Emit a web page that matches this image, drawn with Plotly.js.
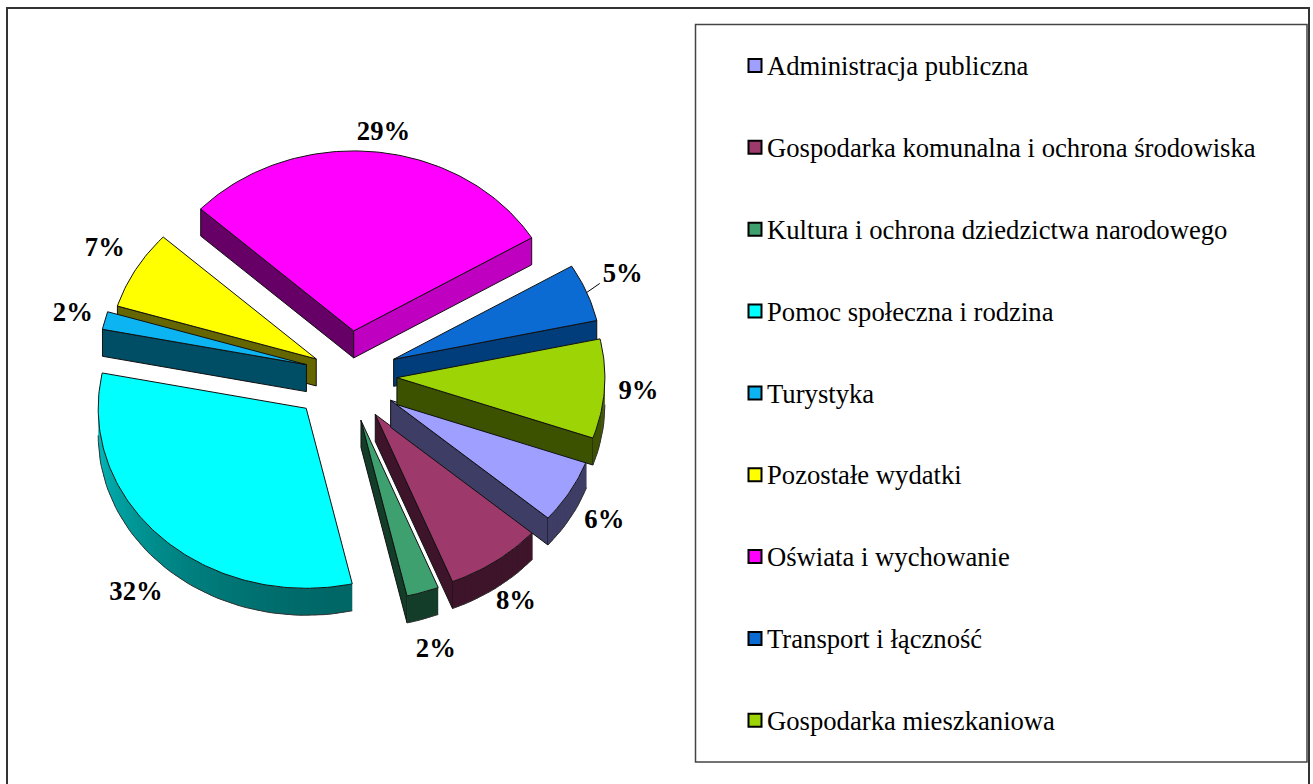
<!DOCTYPE html>
<html><head><meta charset="utf-8">
<script src="https://cdn.plot.ly/plotly-3.0.1.min.js"></script>
<style>html,body{margin:0;padding:0;background:#fff}#c{width:1313px;height:784px}</style>
</head><body><div id="c"></div>
<script>
// ---- data ----
const categories = ["Administracja publiczna","Gospodarka komunalna i ochrona środowiska","Kultura i ochrona dziedzictwa narodowego","Pomoc społeczna i rodzina","Turystyka","Pozostałe wydatki","Oświata i wychowanie","Transport i łączność","Gospodarka mieszkaniowa"];
const shares = [5.9,7.6,2.5,31.7,1.6,7.1,29.5,5.2,8.9];
const percentLabels = ["6%","8%","2%","32%","2%","7%","29%","5%","9%"];

// ---- style ----
const topColors = ["#9F9FFF","#9E3A6B","#3DA06E","#00FFFF","#0DB4F2","#FFFF00","#FF00FF","#0B6BD3","#9DD406"];
const startWallColors = ["#3D3D66","#3D1429","#143D29","#006666","#004D66","#666600","#660066","#003D7A","#3D5200"];
const endWallColors = ["#3D3D66","#3D1429","#143D29","#006666","#004D66","#666600","#C000C0","#003D7A","#3D5200"];
// draw order, back to front
const drawOrder = [6,5,4,7,3,2,1,0,8];
const labelNudgeX = [34,20,13,-25,-32,-31,9,36,34];
const labelNudgeY = [30,41,58,56,-6,-20,-18,-17,3];
// small per-slice corrections of the exploded position
const explodeNudgeX = [0,-2,-3,-11,2,7,-1,0,0];
const explodeNudgeY = [4,5,5,3,0,5,-2,0,0];

// ---- geometry parameters (chart frame in pixels) ----
const cx=350, cy=375, rx=208, ry=180, depth=27, pull=47, startDeg=19.6;
const rad=d=>d*Math.PI/180;
const total=shares.reduce((a,b)=>a+b,0);
function mix(a,b,t){const p=s=>[1,3,5].map(i=>parseInt(s.substr(i,2),16));const A=p(a),B=p(b);
  return 'rgb('+A.map((v,i)=>Math.round(v+(B[i]-v)*t)).join(',')+')';}
const traces=[];
const base={mode:'lines',fill:'toself',hoverinfo:'skip',showlegend:false,type:'scatter',line:{width:1,color:'#111'}};

let acc=startDeg; const slices=shares.map((v,i)=>{let s=acc;let e=acc+v/total*360;acc=e;
  if(s>270){s-=360;e-=360;}
  const m=(s+e)/2;
  const ax=cx+pull*Math.cos(rad(m))+explodeNudgeX[i];
  const ay=cy+pull*0.9*Math.sin(rad(m))+explodeNudgeY[i];
  return {s,e,m,ax,ay,i};});

drawOrder.forEach(k=>{const S=slices[k];
  const pt=d=>[S.ax+rx*Math.cos(rad(d)),S.ay+ry*Math.sin(rad(d))];
  const [sx,sy]=pt(S.s),[ex,ey]=pt(S.e);
  // radial side walls, only the ones that face the viewer
  if(Math.cos(rad(S.s))<0) traces.push(Object.assign({},base,{x:[S.ax,sx,sx,S.ax,S.ax],y:[S.ay,sy,sy+depth,S.ay+depth,S.ay],fillcolor:startWallColors[k]}));
  if(Math.cos(rad(S.e))>0) traces.push(Object.assign({},base,{x:[S.ax,ex,ex,S.ax,S.ax],y:[S.ay,ey,ey+depth,S.ay+depth,S.ay],fillcolor:endWallColors[k]}));
  // outer rim: shaded in short strips over the visible front part
  const from=Math.max(S.s,0),to=Math.min(S.e,180);
  if(to>from){const n=Math.max(1,Math.ceil((to-from)/2));
    for(let j=0;j<n;j++){const a=from+(to-from)*j/n,b=Math.min(to,from+(to-from)*(j+1)/n+0.8);
      const [x1,y1]=pt(a),[x2,y2]=pt(b);
      let c=startWallColors[k];
      if(k===3){c=mix('#006666','#00C4C4',Math.pow((a-from)/(to-from),1.6));}
      traces.push({type:'scatter',mode:'none',fill:'toself',hoverinfo:'skip',showlegend:false,x:[x1,x2,x2,x1,x1],y:[y1,y2,y2+depth,y1+depth,y1],fillcolor:c});
    }
    const ox=[],oy=[];for(let j=0;j<=n;j++){const [x,y]=pt(from+(to-from)*j/n);ox.push(x);oy.push(y+depth);}
    traces.push({type:'scatter',mode:'lines',x:ox,y:oy,hoverinfo:'skip',showlegend:false,line:{width:1,color:'#333'}});
  }
  // top surface
  const tx=[S.ax],ty=[S.ay];const steps=Math.ceil(S.e-S.s);
  for(let j=0;j<=steps;j++){const [x,y]=pt(S.s+(S.e-S.s)*j/steps);tx.push(x);ty.push(y);}
  tx.push(S.ax);ty.push(S.ay);
  traces.push(Object.assign({},base,{x:tx,y:ty,fillcolor:topColors[k],name:categories[k]}));
});

// percent labels
const serif='"Liberation Serif","Times New Roman",serif';
const labelX=slices.map((S,i)=>S.ax+rx*Math.cos(rad(S.m))+labelNudgeX[i]);
const labelY=slices.map((S,i)=>S.ay+ry*Math.sin(rad(S.m))+labelNudgeY[i]);
traces.push({type:'scatter',mode:'text',x:labelX,y:labelY,text:percentLabels.map(t=>'<b>'+t+'</b>'),textposition:'middle center',hoverinfo:'skip',showlegend:false,
  textfont:{family:serif,size:26.67,color:'#000'}});

// leader line for the 5% label
const T=slices[7];
traces.push({type:'scatter',mode:'lines',x:[T.ax+rx*Math.cos(rad(T.m)),labelX[7]-23],y:[T.ay+ry*Math.sin(rad(T.m)),labelY[7]+8],hoverinfo:'skip',showlegend:false,line:{width:1,color:'#000'}});

// legend (swatches and names, evenly spaced)
const legendStep=81.85, legendTop=65.5, legendX=755;
const legendY=categories.map((_,i)=>legendTop+i*legendStep);
traces.push({type:'scatter',mode:'markers',x:categories.map(()=>legendX),y:legendY,hoverinfo:'skip',showlegend:false,
  marker:{symbol:'square',size:13,color:topColors,line:{width:2,color:'#000'}}});
traces.push({type:'scatter',mode:'text',x:categories.map(()=>legendX+12),y:legendY.map(v=>v+3),text:categories,textposition:'middle right',hoverinfo:'skip',showlegend:false,
  textfont:{family:serif,size:26.67,color:'#000'}});

const layout={width:1313,height:784,margin:{l:0,r:0,t:0,b:0},paper_bgcolor:'#fff',plot_bgcolor:'#fff',showlegend:false,
  xaxis:{range:[0,1313],visible:false,fixedrange:true},
  yaxis:{range:[784,0],visible:false,fixedrange:true},
  shapes:[
    {type:'rect',xref:'x',yref:'y',x0:7,y0:8,x1:1309,y1:800,line:{color:'#333',width:2}},
    {type:'rect',xref:'x',yref:'y',x0:695.5,y0:24.5,x1:1307,y1:762,line:{color:'#444',width:1.5}}
  ]};
Plotly.newPlot('c',traces,layout,{displayModeBar:false,staticPlot:true});
</script></body></html>
